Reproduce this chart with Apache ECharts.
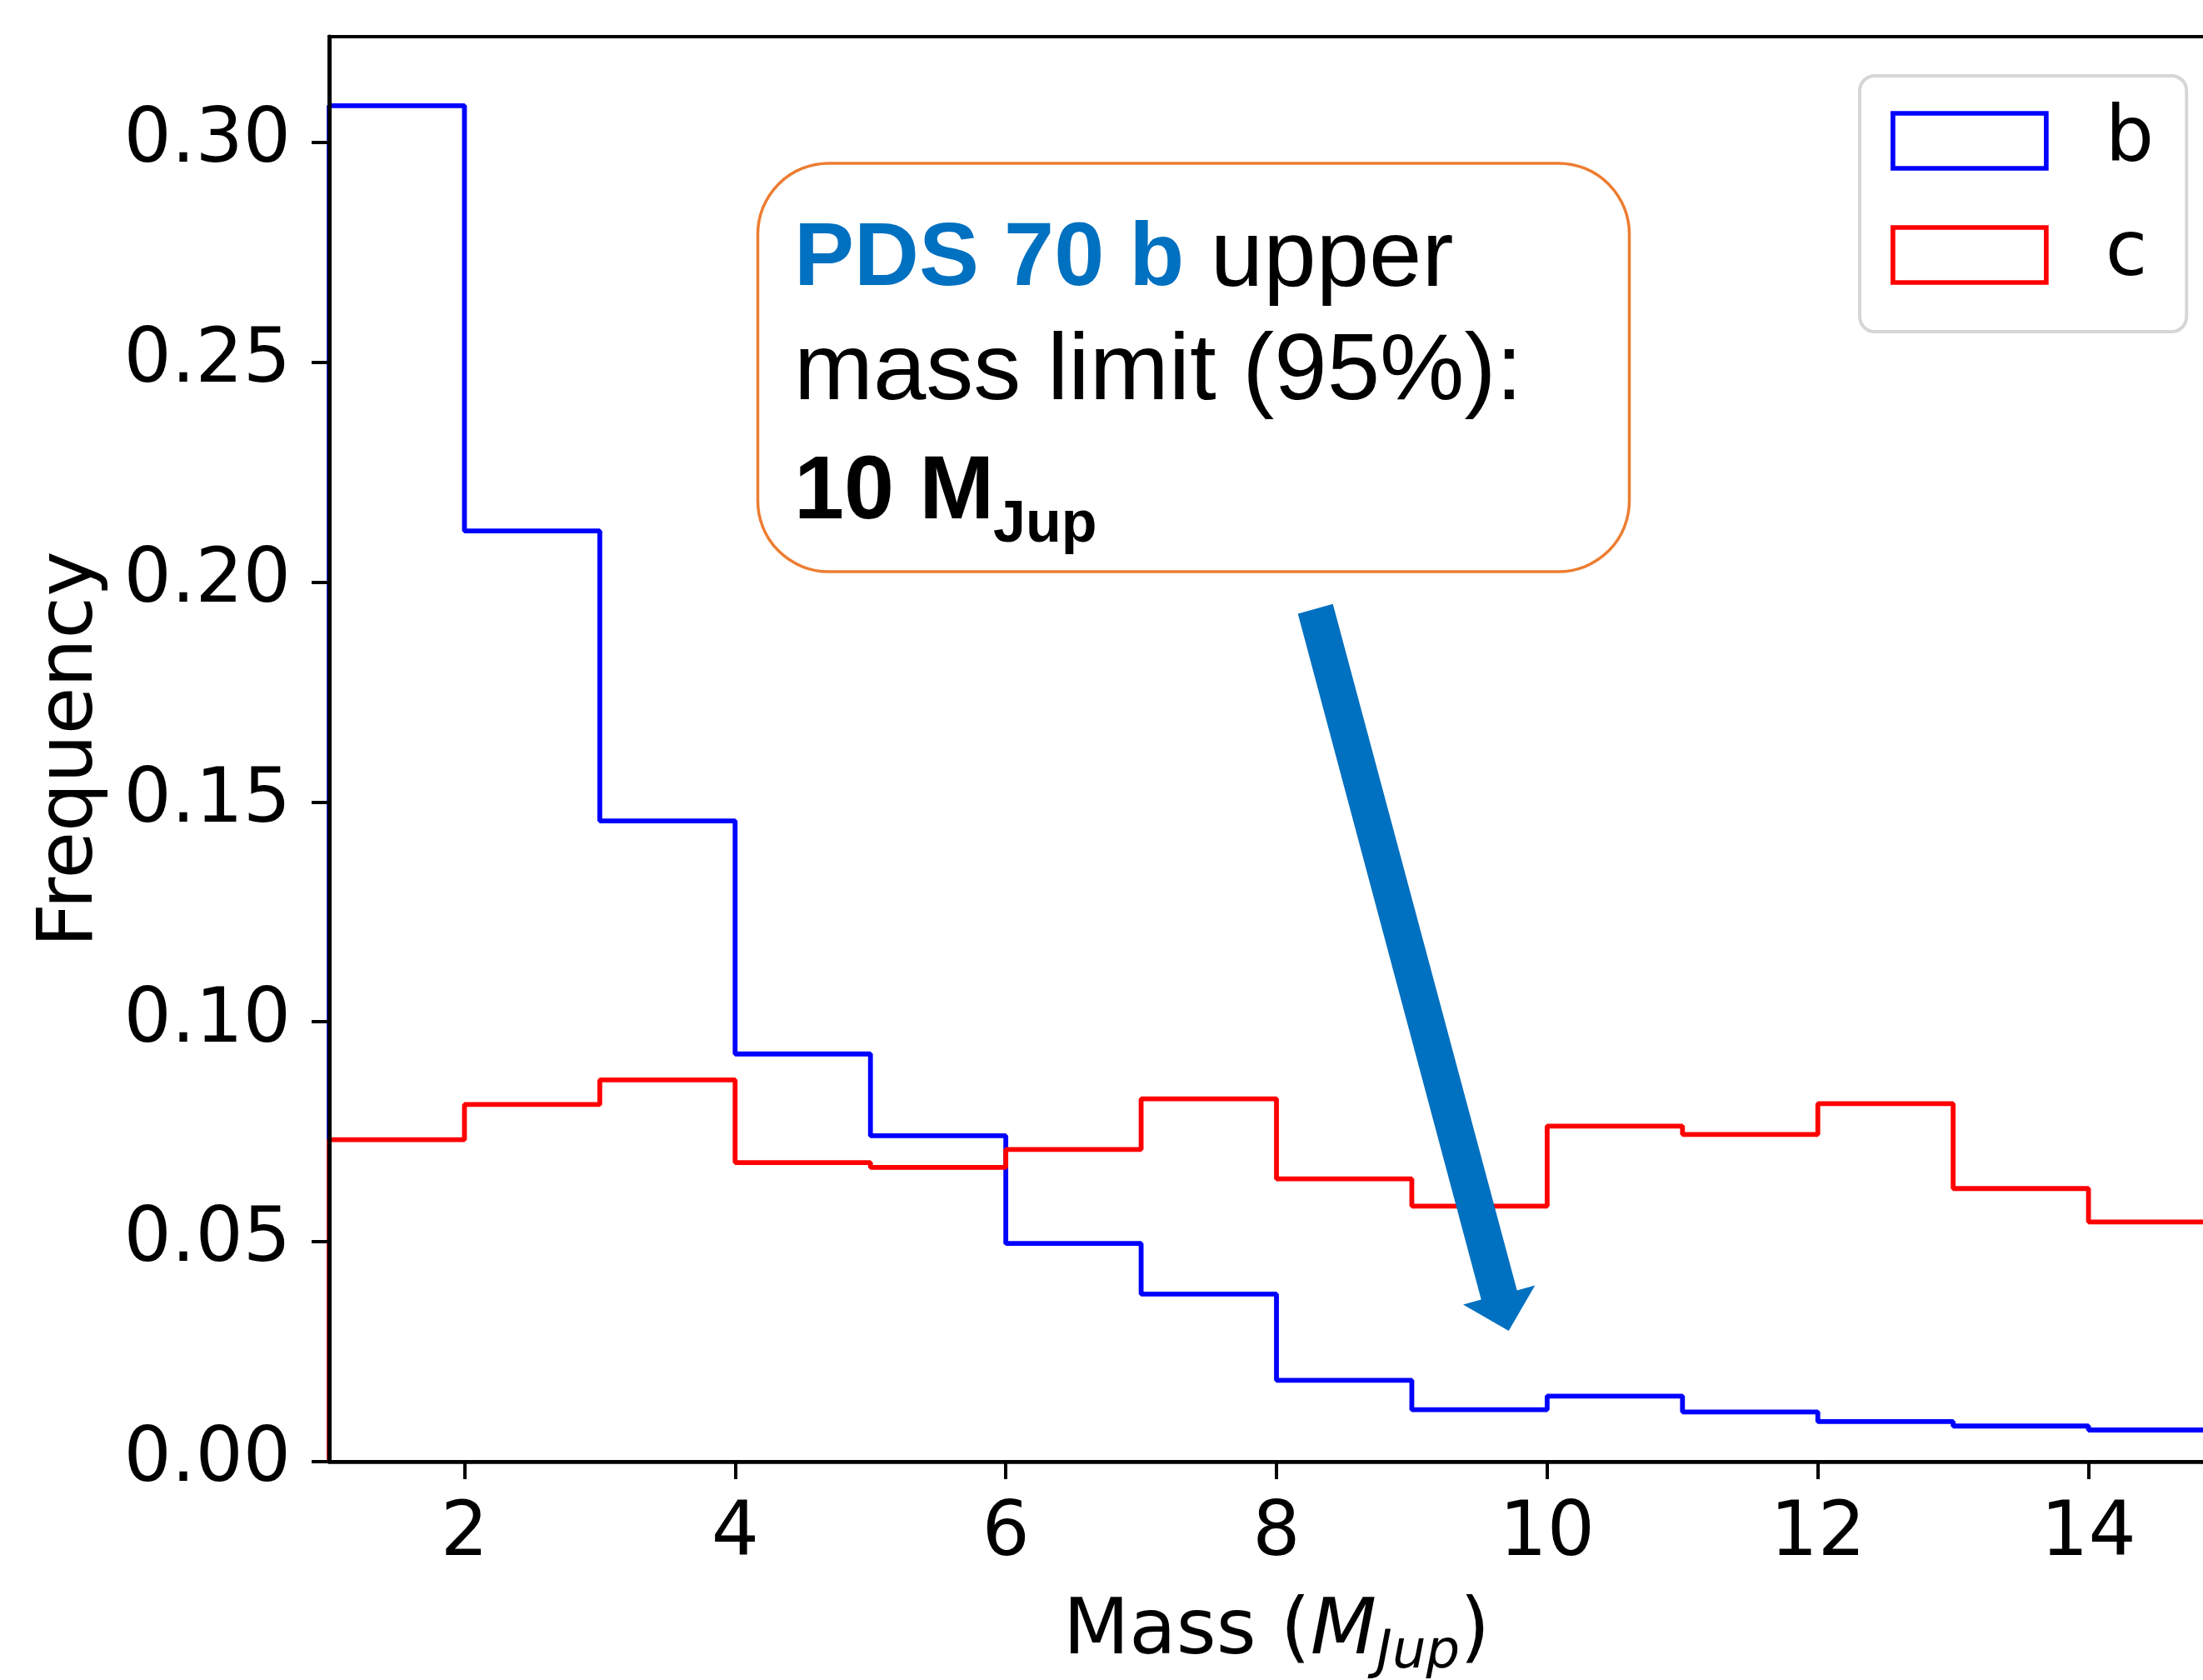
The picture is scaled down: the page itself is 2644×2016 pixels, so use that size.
<!DOCTYPE html>
<html>
<head>
<meta charset="utf-8">
<script src="https://cdn.jsdelivr.net/npm/echarts@6/dist/echarts.min.js"></script>
<style>
html,body{margin:0;padding:0;background:#fff;}
#chart{width:2644px;height:2016px;}
</style>
</head>
<body>
<div id="chart"></div>
<script>
// Bin edges (Mass, M_Jup)
const binEdges = [1,2,3,4,5,6,7,8,9,10,11,12,13,14,15];
// Frequencies per bin
const freqB = [0.3083,0.2116,0.1457,0.0927,0.0741,0.0496,0.0381,0.0185,0.0118,0.0149,0.0113,0.0091,0.0081,0.0072];
const freqC = [0.0732,0.0812,0.0868,0.0680,0.0669,0.0710,0.0825,0.0643,0.0581,0.0763,0.0744,0.0814,0.0621,0.0545];
const xTicks = [2,4,6,8,10,12,14];
const yTicks = [0,0.05,0.10,0.15,0.20,0.25,0.30];
const seriesNames = ['b','c'];
const seriesColors = ['#0000ff','#ff0000'];

function stepData(vals){
  const pts = [[binEdges[0],0]];
  for(let i=0;i<vals.length;i++) pts.push([binEdges[i], vals[i]]);
  const last = binEdges[binEdges.length-1];
  pts.push([last, vals[vals.length-1]]);
  pts.push([last, 0]);
  return pts;
}

const chart = echarts.init(document.getElementById('chart'), null, {renderer:'canvas'});
const TFS = 90;   // tick labels
const NFS = 92;   // axis titles / legend
const FF = 'DejaVu Sans';
const option = {
  animation:false,
  backgroundColor:'#ffffff',
  grid:{left:395, top:44, width:2274, height:1710, show:true, borderColor:'#000', borderWidth:4,
    backgroundColor:'rgba(0,0,0,0)', containLabel:false, outerBoundsMode:'none'},
  xAxis:{
    type:'value', min:1, max:15, z:5,
    axisLine:{show:true, onZero:false, lineStyle:{color:'#000', width:4.5}},
    axisTick:{show:true, inside:false, length:21, lineStyle:{color:'#000', width:4}, customValues:xTicks},
    axisLabel:{show:true, customValues:xTicks, margin:44, fontSize:TFS, fontFamily:FF, color:'#000'},
    splitLine:{show:false},
    name:'{a|Mass (}{i|M}{s|Jup}{a|)}',
    nameLocation:'middle', nameGap:150,
    nameTextStyle:{fontSize:NFS, fontFamily:FF, color:'#000',
      rich:{
        a:{fontSize:NFS, fontFamily:FF, color:'#000', lineHeight:112, verticalAlign:'middle'},
        i:{fontSize:NFS, fontFamily:FF, fontStyle:'italic', color:'#000', lineHeight:112, verticalAlign:'middle'},
        s:{fontSize:64, fontFamily:FF, fontStyle:'italic', color:'#000', lineHeight:64, verticalAlign:'bottom'}
      }}
  },
  yAxis:{
    type:'value', min:0, max:0.324, z:5,
    axisLine:{show:true, lineStyle:{color:'#000', width:5}},
    axisTick:{show:true, inside:false, length:21, lineStyle:{color:'#000', width:4}, customValues:yTicks},
    axisLabel:{show:true, customValues:yTicks, margin:46, fontSize:TFS, fontFamily:FF, color:'#000',
      formatter:function(v){return v.toFixed(2);}},
    splitLine:{show:false},
    name:'Frequency', nameLocation:'middle', nameGap:263,
    nameTextStyle:{fontSize:NFS, fontFamily:FF, color:'#000'}
  },
  legend:{
    orient:'vertical', left:2232, top:91,
    itemWidth:184, itemHeight:66, itemGap:45,
    padding:[32,39,46,37],
    backgroundColor:'#ffffff', borderColor:'#d6d6d6', borderWidth:4, borderRadius:18,
    selectedMode:false,
    textStyle:{fontSize:NFS, fontFamily:FF, color:'#000', padding:[0,0,0,66]},
    data:seriesNames.map((n,i)=>({name:n, icon:'rect', itemStyle:{color:'rgba(0,0,0,0)', borderColor:seriesColors[i], borderWidth:5.7}}))
  },
  series:[
    {name:seriesNames[0], type:'line', step:'end', symbol:'none', data:stepData(freqB), clip:true,
      lineStyle:{color:seriesColors[0], width:5.8}, itemStyle:{color:seriesColors[0]}, z:2},
    {name:seriesNames[1], type:'line', step:'end', symbol:'none', data:stepData(freqC), clip:true,
      lineStyle:{color:seriesColors[1], width:5.8}, itemStyle:{color:seriesColors[1]}, z:3}
  ],
  graphic:[
    {type:'rect', z:10, shape:{x:909.5, y:196, width:1046, height:490, r:85},
      style:{fill:'#ffffff', stroke:'#ED7D31', lineWidth:3.5}},
    {type:'text', z:11, x:953, y:312,
      style:{text:'{b|PDS 70 b}{n| upper}', verticalAlign:'middle', align:'left',
        rich:{
          b:{fill:'#0070C0', fontSize:108, fontWeight:'bold', fontFamily:'Liberation Sans'},
          n:{fill:'#000000', fontSize:114, fontFamily:'Liberation Sans'}
        }}},
    {type:'text', z:11, x:953, y:448,
      style:{text:'mass limit (95%):', fill:'#000', fontSize:114, fontFamily:'Liberation Sans', verticalAlign:'middle', align:'left'}},
    {type:'text', z:11, x:953, y:592,
      style:{text:'10 M', fill:'#000', fontSize:108, fontWeight:'bold', fontFamily:'Liberation Sans', verticalAlign:'middle', align:'left'}},
    {type:'text', z:11, x:1192, y:631,
      style:{text:'Jup', fill:'#000', fontSize:70, fontWeight:'bold', fontFamily:'Liberation Sans', verticalAlign:'middle', align:'left'}},
    {type:'polygon', z:12,
      shape:{points:[[1557.7,736.4],[1777.7,1559.4],[1756,1565.5],[1810.7,1597],[1842.3,1542.4],[1820.7,1548.5],[1599.7,724.8]]},
      style:{fill:'#0070C0'}}
  ]
};
chart.setOption(option);
</script>
</body>
</html>
